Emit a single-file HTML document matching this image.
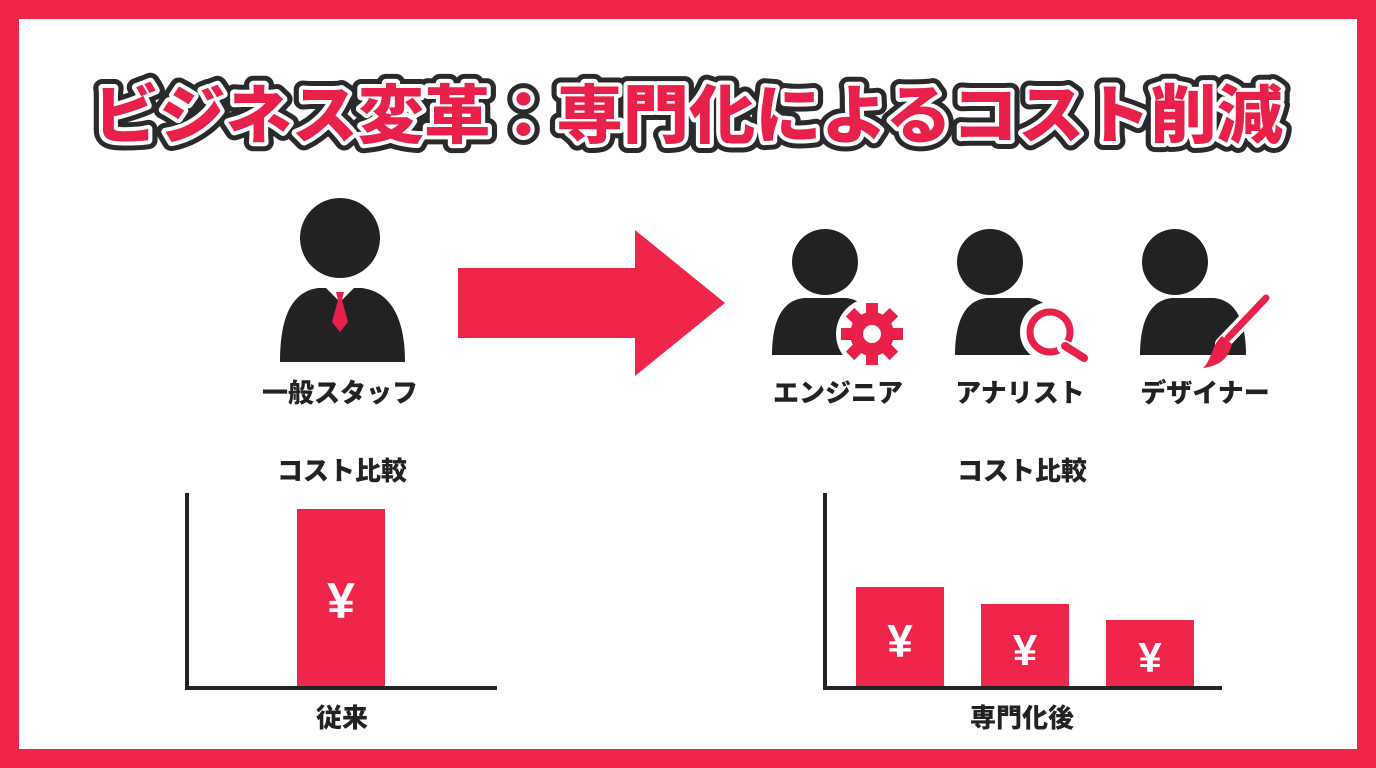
<!DOCTYPE html>
<html><head><meta charset="utf-8"><style>
html,body{margin:0;padding:0;background:#fff;}
svg{display:block;}
text{font-family:"Liberation Sans","Noto Sans CJK JP",sans-serif;font-weight:900;}
</style></head><body>
<svg width="1376" height="768" viewBox="0 0 1376 768" xmlns="http://www.w3.org/2000/svg">
<rect x="0" y="0" width="1376" height="768" fill="#f0254a"/>
<rect x="19" y="19" width="1338" height="730" fill="#fff"/>
<!-- title -->
<g font-size="64" text-anchor="middle" stroke-linejoin="round">
<text x="688" y="138" textLength="1190" lengthAdjust="spacingAndGlyphs" fill="#2a2a2a" stroke="#2a2a2a" stroke-width="18">ビジネス変革：専門化によるコスト削減</text>
<text x="688" y="138" textLength="1190" lengthAdjust="spacingAndGlyphs" fill="#e8204a" stroke="#fff" stroke-width="8" paint-order="stroke">ビジネス変革：専門化によるコスト削減</text>
</g>
<!-- left person -->
<circle cx="340" cy="238" r="40" fill="#222"/>
<path d="M280 362 C280 320 290 292 318 288 L362 288 C392 292 405 320 405 362 Z" fill="#222"/>
<path d="M326 288 L340 302 L354 288 Z" fill="#fff"/>
<path d="M336 292 L344 292 L342 300 L348 322 L340 332 L332 322 L338 300 Z" fill="#e8204a"/>
<!-- arrow -->
<path d="M458 268 L635 268 L635 230 L725 303 L635 376 L635 338 L458 338 Z" fill="#f0254a"/>
<!-- right persons -->
<g fill="#222">
<circle cx="825" cy="262" r="33"/>
<path d="M772 355 C772 318 784 300 804 298 L846 298 C866 300 878 318 878 355 Z"/>
<circle cx="990" cy="262" r="33"/>
<path d="M955 355 C955 318 967 300 987 298 L1029 298 C1049 300 1061 318 1061 355 Z"/>
<circle cx="1175" cy="262" r="33"/>
<path d="M1140 355 C1140 318 1152 300 1172 298 L1214 298 C1234 300 1246 318 1246 355 Z"/>
</g>
<!-- gear -->
<circle cx="872" cy="334" r="36" fill="#fff"/>
<g fill="#e8204a" transform="translate(872,334)">
<circle r="22"/>
<g id="t"><rect x="-6" y="-31" width="12" height="62"/></g>
<rect x="-6" y="-31" width="12" height="62" transform="rotate(45)"/>
<rect x="-6" y="-31" width="12" height="62" transform="rotate(90)"/>
<rect x="-6" y="-31" width="12" height="62" transform="rotate(135)"/>
<circle r="9" fill="#fff"/>
</g>
<!-- magnifier -->
<circle cx="1050" cy="332" r="30" fill="#fff"/>
<circle cx="1050" cy="332" r="20" fill="none" stroke="#e8204a" stroke-width="7"/>
<line x1="1064" y1="347" x2="1085" y2="357" stroke="#fff" stroke-width="14" stroke-linecap="round"/>
<line x1="1065" y1="346" x2="1084" y2="358" stroke="#e8204a" stroke-width="8" stroke-linecap="round"/>
<!-- brush -->
<line x1="1266" y1="298" x2="1222" y2="344" stroke="#fff" stroke-width="14" stroke-linecap="round"/>
<line x1="1266" y1="298" x2="1228" y2="338" stroke="#e8204a" stroke-width="7" stroke-linecap="round"/>
<path d="M1222 336 L1232 344 C1228 360 1218 366 1203 368 C1212 360 1212 344 1222 336 Z" fill="#e8204a"/>
<!-- labels -->
<g font-size="26" fill="#222" text-anchor="middle">
<text x="340" y="402">一般スタッフ</text>
<text x="838" y="402">エンジニア</text>
<text x="1020" y="402">アナリスト</text>
<text x="1205" y="402">デザイナー</text>
<text x="342" y="480">コスト比較</text>
<text x="1022" y="480">コスト比較</text>
<text x="342" y="727">従来</text>
<text x="1022" y="727">専門化後</text>
</g>
<!-- charts -->
<g stroke="#222" stroke-width="4" fill="none">
<path d="M187 493 L187 688 L497 688"/>
<path d="M825 493 L825 688 L1222 688"/>
</g>
<g fill="#f0254a">
<rect x="297" y="509" width="88" height="177"/>
<rect x="856" y="587" width="88" height="99"/>
<rect x="981" y="604" width="88" height="82"/>
<rect x="1106" y="620" width="88" height="66"/>
</g>
<g fill="#fff" text-anchor="middle">
<text x="341" y="618" font-size="50">¥</text>
<text x="900" y="657" font-size="46">¥</text>
<text x="1025" y="665" font-size="44">¥</text>
<text x="1150" y="672" font-size="42">¥</text>
</g>
</svg>
</body></html>
